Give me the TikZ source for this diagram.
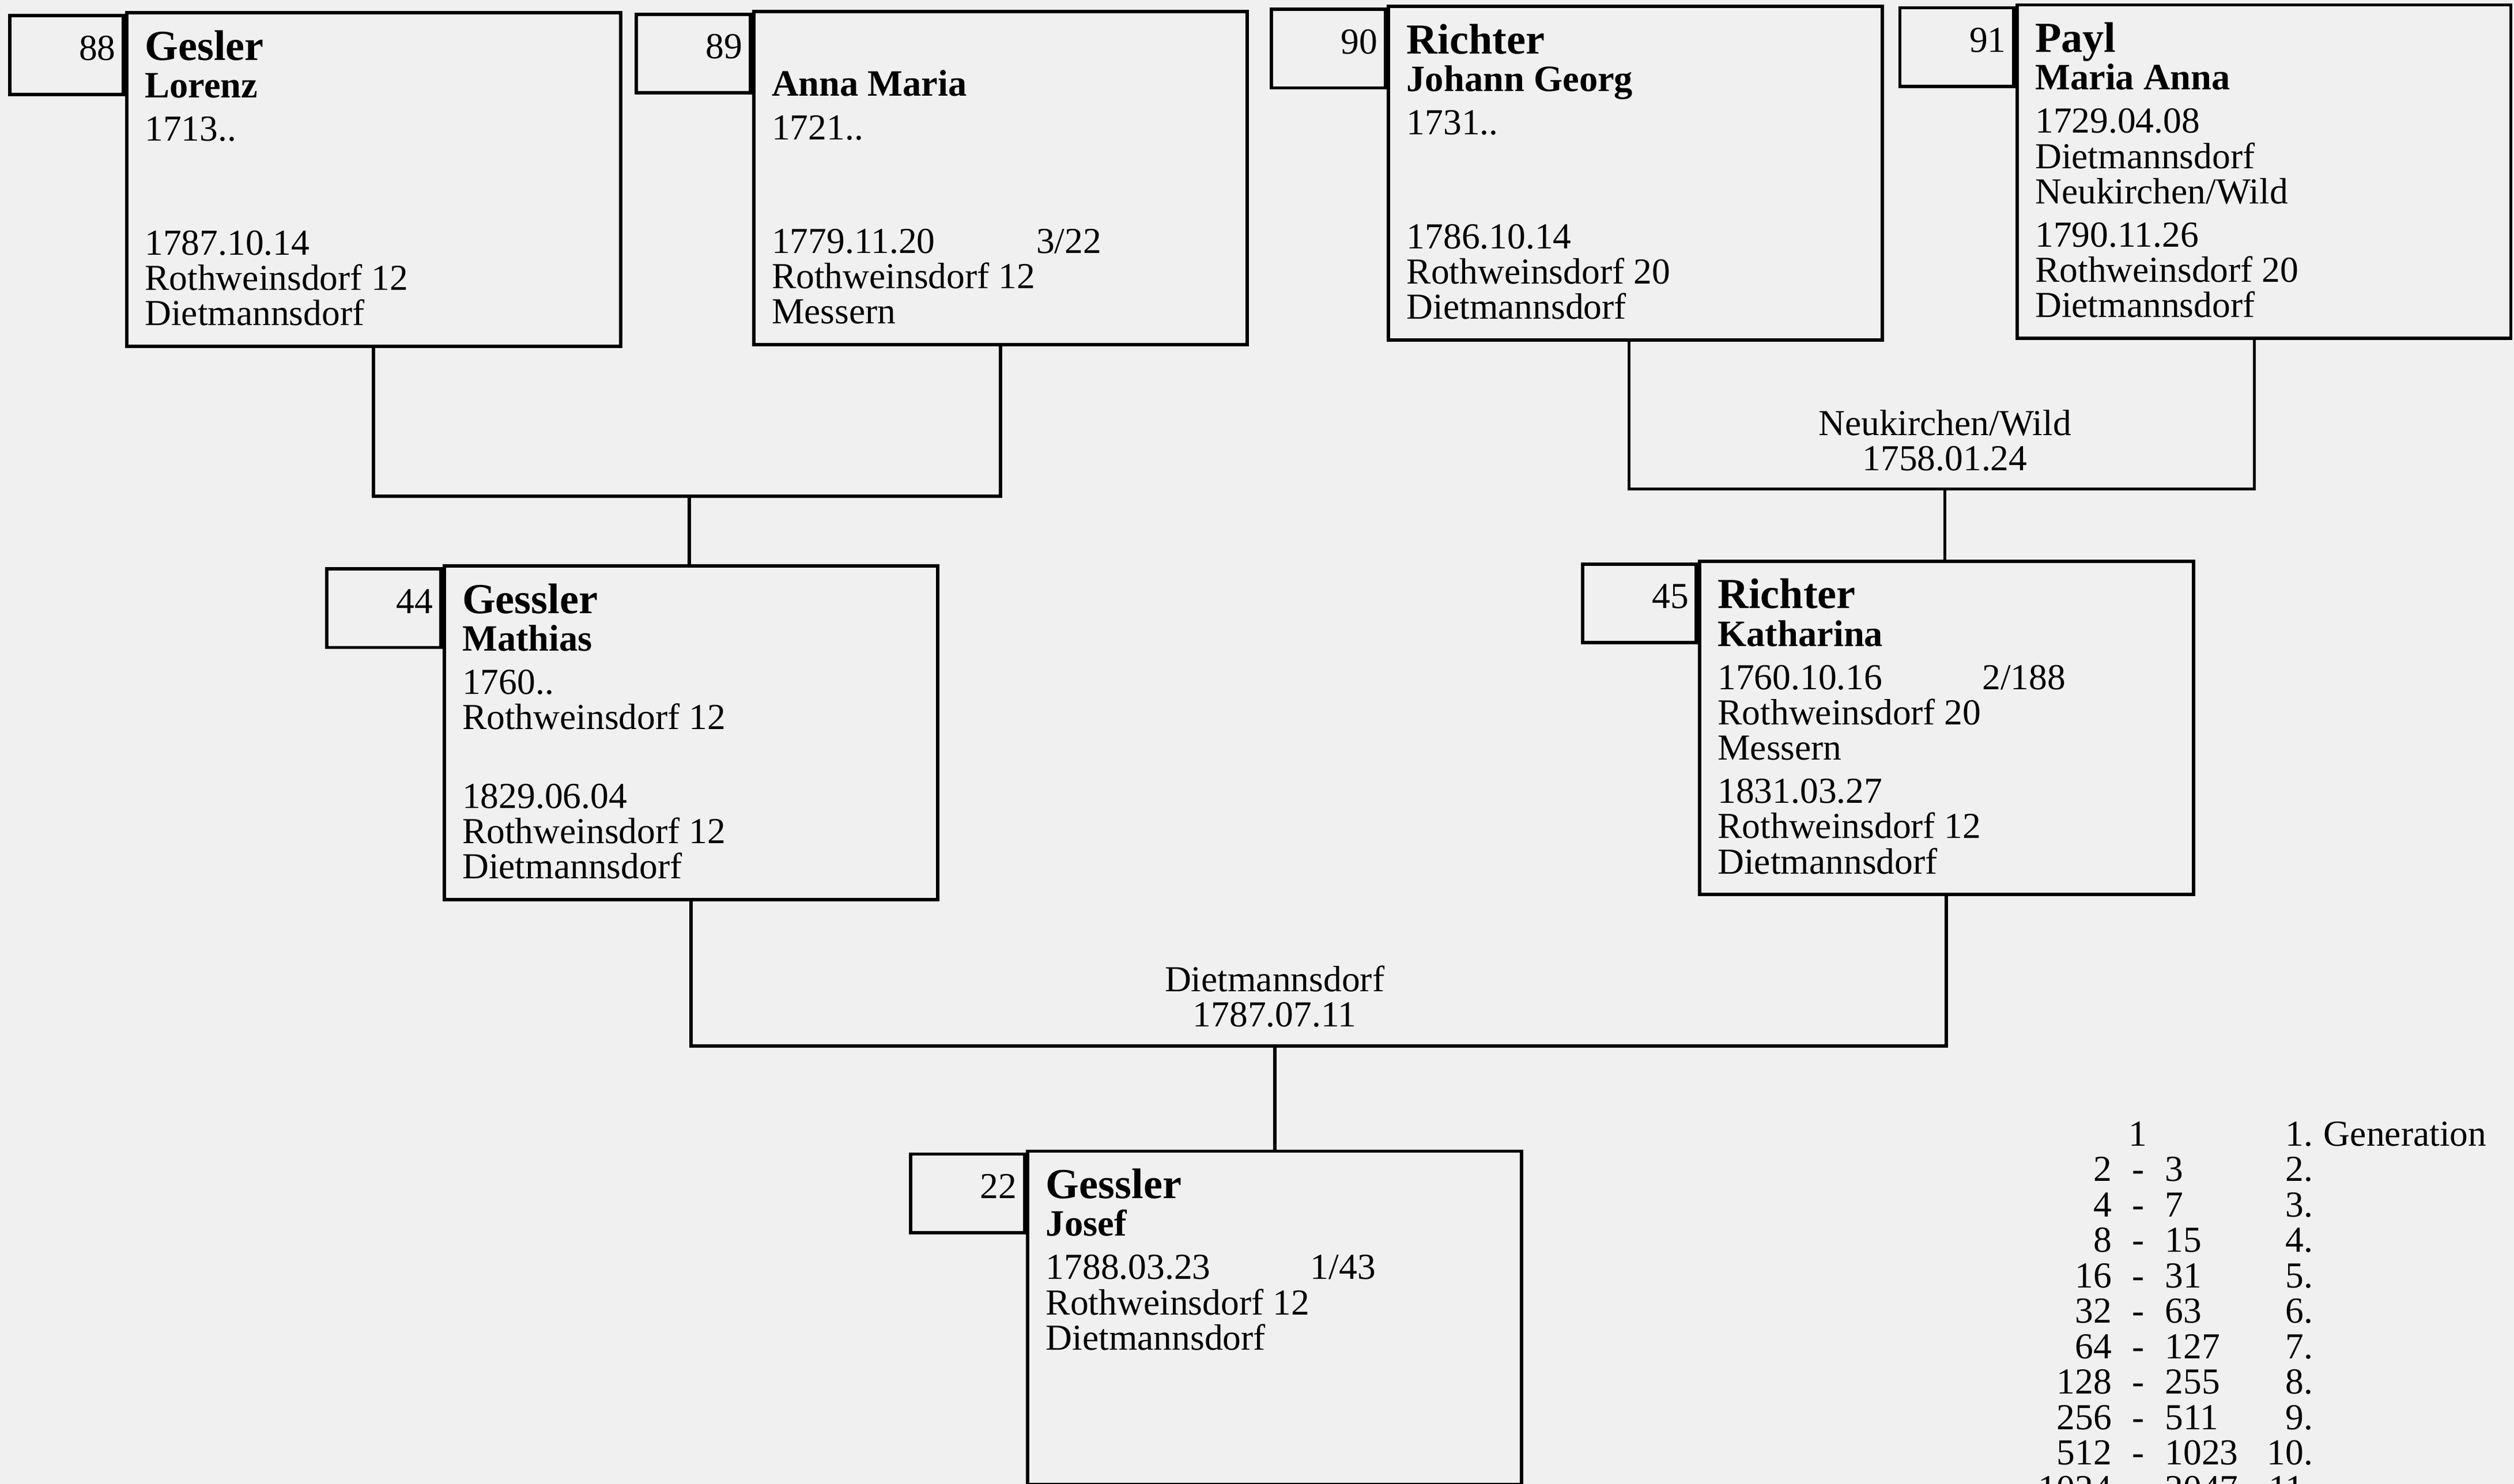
\documentclass[tikz,border=0pt]{standalone}
\usepackage{fontspec}
\setmainfont{Liberation Serif}
\usetikzlibrary{positioning,calc}
\definecolor{paper}{RGB}{240,240,240}

\tikzset{
  person/.style={draw, line width=1.2pt, minimum width=6.16cm, minimum height=4.16cm,
    anchor=north west, inner sep=0pt},
  numbox/.style={draw, line width=1.2pt, minimum width=1.42cm, minimum height=0.98cm,
    anchor=north east, inner sep=0pt},
  txt/.style={anchor=base west, inner sep=0pt, font=\fontsize{13}{15}\selectfont},
  surname/.style={txt, font=\fontsize{15.2}{18}\selectfont\bfseries},
  given/.style={txt, font=\fontsize{13.2}{15}\selectfont\bfseries},
  num/.style={txt, anchor=base east},
  link/.style={line width=1.2pt},
}

\begin{document}
\begin{tikzpicture}[x=0.02cm, y=-0.02cm]
    \useasboundingbox[fill=paper] (0,0) rectangle (1568,925.6);

    % Generation 88 - 91
    \node[person] (p88) at (78,7) {};
    \node[numbox] (n88) at ($(p88.north west)+(0,1.8)$) {};
    \node[num] (k88) at ($(p88.north west)+(-5.5,30.5)$) {88};
    \node[surname] (s88) at ($(p88.north west)+(12,30.5)$) {Gesler};
    \node[given] (g88) at ($(p88.north west)+(12,54)$) {Lorenz};
    \node[txt] (b88) at ($(p88.north west)+(12,81)$) {1713..};
    \node[txt] (d88) at ($(p88.north west)+(12,152)$) {1787.10.14};
    \node[txt] (e88) at ($(p88.north west)+(12,174)$) {Rothweinsdorf 12};
    \node[txt] (f88) at ($(p88.north west)+(12,196)$) {Dietmannsdorf};

    \node[person] (p89) at (469,6) {};
    \node[numbox] (n89) at ($(p89.north west)+(0,1.8)$) {};
    \node[num] (k89) at ($(p89.north west)+(-5.5,30.5)$) {89};
    \node[given] (g89) at ($(p89.north west)+(12,54)$) {Anna Maria};
    \node[txt] (b89) at ($(p89.north west)+(12,81)$) {1721..};
    \node[txt] (d89) at ($(p89.north west)+(12,152)$) {1779.11.20};
    \node[txt] (x89) at ($(p89.north west)+(177,152)$) {3/22};
    \node[txt] (e89) at ($(p89.north west)+(12,174)$) {Rothweinsdorf 12};
    \node[txt] (f89) at ($(p89.north west)+(12,196)$) {Messern};

    \node[person] (p90) at (865,3) {};
    \node[numbox] (n90) at ($(p90.north west)+(0,1.8)$) {};
    \node[num] (k90) at ($(p90.north west)+(-5.5,30.5)$) {90};
    \node[surname] (s90) at ($(p90.north west)+(12,30.5)$) {Richter};
    \node[given] (g90) at ($(p90.north west)+(12,54)$) {Johann Georg};
    \node[txt] (b90) at ($(p90.north west)+(12,81)$) {1731..};
    \node[txt] (d90) at ($(p90.north west)+(12,152)$) {1786.10.14};
    \node[txt] (e90) at ($(p90.north west)+(12,174)$) {Rothweinsdorf 20};
    \node[txt] (f90) at ($(p90.north west)+(12,196)$) {Dietmannsdorf};

    \node[person] (p91) at (1257,2) {};
    \node[numbox] (n91) at ($(p91.north west)+(0,1.8)$) {};
    \node[num] (k91) at ($(p91.north west)+(-5.5,30.5)$) {91};
    \node[surname] (s91) at ($(p91.north west)+(12,30.5)$) {Payl};
    \node[given] (g91) at ($(p91.north west)+(12,54)$) {Maria Anna};
    \node[txt] (b91) at ($(p91.north west)+(12,81)$) {1729.04.08};
    \node[txt] (c91) at ($(p91.north west)+(12,103)$) {Dietmannsdorf};
    \node[txt] (a91) at ($(p91.north west)+(12,125)$) {Neukirchen/Wild};
    \node[txt] (d91) at ($(p91.north west)+(12,152)$) {1790.11.26};
    \node[txt] (e91) at ($(p91.north west)+(12,174)$) {Rothweinsdorf 20};
    \node[txt] (f91) at ($(p91.north west)+(12,196)$) {Dietmannsdorf};

    % Generation 44 - 45
    \node[person] (p44) at (276,352) {};
    \node[numbox] (n44) at ($(p44.north west)+(0,1.8)$) {};
    \node[num] (k44) at ($(p44.north west)+(-5.5,30.5)$) {44};
    \node[surname] (s44) at ($(p44.north west)+(12,30.5)$) {Gessler};
    \node[given] (g44) at ($(p44.north west)+(12,54)$) {Mathias};
    \node[txt] (b44) at ($(p44.north west)+(12,81)$) {1760..};
    \node[txt] (c44) at ($(p44.north west)+(12,103)$) {Rothweinsdorf 12};
    \node[txt] (d44) at ($(p44.north west)+(12,152)$) {1829.06.04};
    \node[txt] (e44) at ($(p44.north west)+(12,174)$) {Rothweinsdorf 12};
    \node[txt] (f44) at ($(p44.north west)+(12,196)$) {Dietmannsdorf};

    \node[person] (p45) at (1059,349) {};
    \node[numbox] (n45) at ($(p45.north west)+(0,1.8)$) {};
    \node[num] (k45) at ($(p45.north west)+(-5.5,30.5)$) {45};
    \node[surname] (s45) at ($(p45.north west)+(12,30.5)$) {Richter};
    \node[given] (g45) at ($(p45.north west)+(12,54)$) {Katharina};
    \node[txt] (b45) at ($(p45.north west)+(12,81)$) {1760.10.16};
    \node[txt] (x45) at ($(p45.north west)+(177,81)$) {2/188};
    \node[txt] (c45) at ($(p45.north west)+(12,103)$) {Rothweinsdorf 20};
    \node[txt] (a45) at ($(p45.north west)+(12,125)$) {Messern};
    \node[txt] (d45) at ($(p45.north west)+(12,152)$) {1831.03.27};
    \node[txt] (e45) at ($(p45.north west)+(12,174)$) {Rothweinsdorf 12};
    \node[txt] (f45) at ($(p45.north west)+(12,196)$) {Dietmannsdorf};

    % Generation 22
    \node[person] (p22) at (640,717) {};
    \node[numbox] (n22) at ($(p22.north west)+(0,1.8)$) {};
    \node[num] (k22) at ($(p22.north west)+(-5.5,30.5)$) {22};
    \node[surname] (s22) at ($(p22.north west)+(12,30.5)$) {Gessler};
    \node[given] (g22) at ($(p22.north west)+(12,54)$) {Josef};
    \node[txt] (b22) at ($(p22.north west)+(12,81)$) {1788.03.23};
    \node[txt] (x22) at ($(p22.north west)+(177,81)$) {1/43};
    \node[txt] (c22) at ($(p22.north west)+(12,103)$) {Rothweinsdorf 12};
    \node[txt] (a22) at ($(p22.north west)+(12,125)$) {Dietmannsdorf};

    % marriages
    \coordinate (j1) at (430,309.5);
    \draw[link] (p88.south) |- (j1) -| (p89.south);
    \draw[link] (j1) -- (j1 |- p44.north);

    \coordinate (j2) at (1213,305);
    \draw[link] ($(p90.south)+(-4,0)$) |- (j2) -| ($(p91.south)+(-6,0)$);
    \draw[link] (j2) -- (j2 |- p45.north);
    \node[txt, anchor=base] (m2a) at (1213,271.6) {Neukirchen/Wild};
    \node[txt, anchor=base] (m2b) at (1213,293.4) {1758.01.24};

    \coordinate (j3) at (795,652.5);
    \draw[link] (p44.south) |- (j3) -| (p45.south);
    \draw[link] (j3) -- (j3 |- p22.north);
    \node[txt, anchor=base] (m3a) at (795,618.5) {Dietmannsdorf};
    \node[txt, anchor=base] (m3b) at (795,640.5) {1787.07.11};

    % generations
    \node[txt, anchor=base] (hi0) at (1333.5,714.8) {1};
    \node[num] (gen0) at (1443,714.8) {1.};
    \node[txt] (gt0) at (1449,714.8) {Generation};
    \foreach \a/\b/\g [count=\i] in {2/3/2, 4/7/3, 8/15/4, 16/31/5, 32/63/6,
        64/127/7, 128/255/8, 256/511/9, 512/1023/10, 1024/2047/11} {
      \node[num] (lo\i) at (1317.4,714.8+22.1*\i) {\a};
      \node[txt, anchor=base] (hy\i) at (1333.5,714.8+22.1*\i) {-};
      \node[txt] (hi\i) at (1350,714.8+22.1*\i) {\b};
      \node[num] (gen\i) at (1443,714.8+22.1*\i) {\g.};
    }
\end{tikzpicture}
\end{document}
